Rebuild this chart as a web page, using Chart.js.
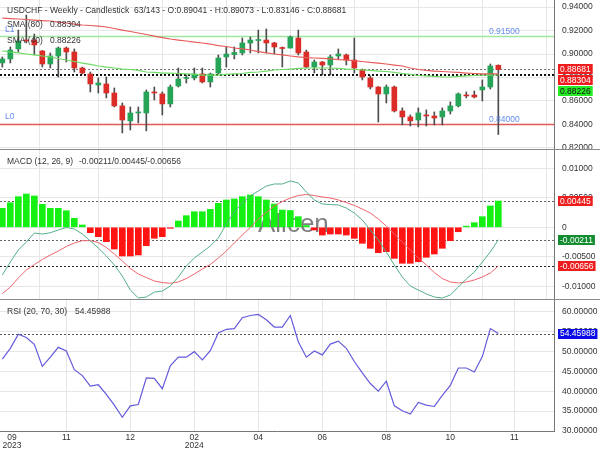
<!DOCTYPE html>
<html>
<head>
<meta charset="utf-8">
<script src="https://cdn.jsdelivr.net/npm/chart.js@4.4.1/dist/chart.umd.min.js"></script>
<style>
  html, body { margin: 0; padding: 0; background: #fff; }
  #wrap { position: relative; width: 600px; height: 450px; overflow: hidden; }
  .pane { position: absolute; left: 0; width: 600px; }
  .sep { position: absolute; left: 0; width: 600px; height: 1px; background: #8a8a8a; }
</style>
</head>
<body>
<div id="wrap">
  <div class="pane" style="top:0;height:149px"><canvas id="priceChart" width="600" height="149"></canvas></div>
  <div class="sep" style="top:149px"></div>
  <div class="pane" style="top:150px;height:149px"><canvas id="macdChart" width="600" height="149"></canvas></div>
  <div class="sep" style="top:299px"></div>
  <div class="pane" style="top:300px;height:150px"><canvas id="rsiChart" width="600" height="150"></canvas></div>
</div>
<script>
// weekly candles
var opens  = [0.8924, 0.8958, 0.9043, 0.9119, 0.9119, 0.9026, 0.8915, 0.8983, 0.9051, 0.9017,
              0.8881, 0.8830, 0.8736, 0.8745, 0.8668, 0.8558, 0.8430, 0.8498, 0.8498, 0.8677,
              0.8660, 0.8575, 0.8728, 0.8792, 0.8796, 0.8830, 0.8762, 0.8838, 0.8975, 0.8995,
              0.9009, 0.9094, 0.9115, 0.9119, 0.9094, 0.9051, 0.9051, 0.9136, 0.9017, 0.8889,
              0.8932, 0.8906, 0.8983, 0.8992, 0.8949, 0.8864, 0.8796, 0.8719, 0.8660, 0.8719,
              0.8515, 0.8464, 0.8438, 0.8481, 0.8472, 0.8464, 0.8515, 0.8558, 0.8651, 0.8651,
              0.8694, 0.8719, 0.89041];
var highs  = [0.8975, 0.9060, 0.9204, 0.9332, 0.9170, 0.9030, 0.9009, 0.9060, 0.9060, 0.9043,
              0.8889, 0.8847, 0.8796, 0.8804, 0.8711, 0.8583, 0.8549, 0.8549, 0.8694, 0.8719,
              0.8677, 0.8736, 0.8881, 0.8821, 0.8881, 0.8881, 0.8838, 0.8992, 0.9060, 0.9060,
              0.9136, 0.9145, 0.9204, 0.9213, 0.9100, 0.9060, 0.9153, 0.9204, 0.9034, 0.8949,
              0.8936, 0.8992, 0.9043, 0.9000, 0.9136, 0.8872, 0.8813, 0.8723, 0.8736, 0.8728,
              0.8541, 0.8481, 0.8541, 0.8524, 0.8507, 0.8541, 0.8592, 0.8668, 0.8677, 0.8685,
              0.8779, 0.8915, 0.89073];
var lows   = [0.8889, 0.8924, 0.9017, 0.9094, 0.8992, 0.8889, 0.8881, 0.8804, 0.8932, 0.8847,
              0.8830, 0.8677, 0.8668, 0.8626, 0.8549, 0.8328, 0.8353, 0.8413, 0.8345, 0.8609,
              0.8481, 0.8549, 0.8719, 0.8753, 0.8779, 0.8753, 0.8719, 0.8830, 0.8889, 0.8958,
              0.8992, 0.9009, 0.9009, 0.9009, 0.9000, 0.8889, 0.9051, 0.8992, 0.8881, 0.8838,
              0.8821, 0.8821, 0.8958, 0.8906, 0.8838, 0.8779, 0.8702, 0.8421, 0.8583, 0.8506,
              0.8396, 0.8387, 0.8379, 0.8387, 0.8396, 0.8396, 0.8489, 0.8549, 0.8626, 0.8626,
              0.8600, 0.8702, 0.83146];
var closes = [0.8958, 0.9034, 0.9111, 0.9111, 0.9077, 0.8915, 0.8983, 0.9051, 0.9017, 0.8881,
              0.8838, 0.8745, 0.8753, 0.8668, 0.8558, 0.8438, 0.8498, 0.8506, 0.8677, 0.8668,
              0.8575, 0.8719, 0.8787, 0.8796, 0.8830, 0.8762, 0.8830, 0.8966, 0.9000, 0.9013,
              0.9094, 0.9119, 0.9119, 0.9094, 0.9060, 0.9047, 0.9145, 0.9009, 0.8889, 0.8932,
              0.8906, 0.8975, 0.9000, 0.8949, 0.8881, 0.8804, 0.8719, 0.8660, 0.8719, 0.8515,
              0.8464, 0.8430, 0.8498, 0.8472, 0.8455, 0.8515, 0.8558, 0.8660, 0.8643, 0.8634,
              0.8719, 0.8898, 0.88681];

var sma80 = [0.9306, 0.9302, 0.9298, 0.9294, 0.9289, 0.9285, 0.9281, 0.9272, 0.9264, 0.9255,
             0.9247, 0.9243, 0.9238, 0.9230, 0.9217, 0.9204, 0.9192, 0.9179, 0.9166, 0.9153,
             0.9140, 0.9128, 0.9119, 0.9111, 0.9102, 0.9094, 0.9085, 0.9072, 0.9064, 0.9051,
             0.9043, 0.9034, 0.9021, 0.9009, 0.9000, 0.8992, 0.8983, 0.8975, 0.8970, 0.8966,
             0.8962, 0.8958, 0.8953, 0.8949, 0.8941, 0.8936, 0.8928, 0.8923, 0.8915, 0.8906,
             0.8898, 0.8881, 0.8868, 0.8860, 0.8855, 0.8851, 0.8847, 0.8843, 0.8838, 0.8834,
             0.8831, 0.8830, 0.88304];
var sma40 = [0.9026, 0.9017, 0.9009, 0.9000, 0.8992, 0.8983, 0.8975, 0.8962, 0.8949, 0.8936,
             0.8923, 0.8911, 0.8898, 0.8889, 0.8881, 0.8872, 0.8868, 0.8860, 0.8847, 0.8843,
             0.8838, 0.8838, 0.8834, 0.8830, 0.8826, 0.8821, 0.8821, 0.8821, 0.8826, 0.8830,
             0.8834, 0.8843, 0.8847, 0.8855, 0.8864, 0.8868, 0.8872, 0.8877, 0.8881, 0.8881,
             0.8881, 0.8881, 0.8877, 0.8872, 0.8868, 0.8864, 0.8860, 0.8855, 0.8851, 0.8843,
             0.8834, 0.8826, 0.8817, 0.8813, 0.8809, 0.8804, 0.8804, 0.8809, 0.8813, 0.8817,
             0.8821, 0.8821, 0.88226];

var macdHist = [0.00322, 0.00417, 0.00519, 0.00564, 0.00531, 0.00390, 0.00322, 0.00322, 0.00281, 0.00153,
                0.00039, -0.00091, -0.00159, -0.00244, -0.00368, -0.00486, -0.00486, -0.00469, -0.00312, -0.00186,
                -0.00159, -0.00017, 0.00107, 0.00197, 0.00264, 0.00264, 0.00305, 0.00407, 0.00463, 0.00480,
                0.00519, 0.00547, 0.00519, 0.00463, 0.00395, 0.00293, 0.00285, 0.00180, 0.00030, -0.00046,
                -0.00131, -0.00114, -0.00114, -0.00131, -0.00187, -0.00271, -0.00356, -0.00430, -0.00413, -0.00526,
                -0.00610, -0.00610, -0.00583, -0.00508, -0.00453, -0.00356, -0.00227, -0.00075, 0.00020, 0.00078,
                0.00180, 0.00361, 0.00445];
var macdLine = [-0.00808, -0.00588, -0.00385, -0.00249, -0.00097, -0.00114, -0.00092, -0.00046, -0.00003, -0.00029,
                -0.00114, -0.00232, -0.00351, -0.00486, -0.00639, -0.00825, -0.01063, -0.01198, -0.01181, -0.01097,
                -0.01080, -0.00995, -0.00842, -0.00656, -0.00520, -0.00419, -0.00317, -0.00181, 0.00056, 0.00259,
                0.00412, 0.00531, 0.00615, 0.00700, 0.00734, 0.00734, 0.00785, 0.00751, 0.00598, 0.00463,
                0.00395, 0.00386, 0.00378, 0.00327, 0.00242, 0.00124, -0.00046, -0.00215, -0.00419, -0.00639,
                -0.00842, -0.00995, -0.01063, -0.01130, -0.01181, -0.01198, -0.01147, -0.01012, -0.00876, -0.00758,
                -0.00588, -0.00419, -0.00211];
var signalLine = [-0.01124, -0.01012, -0.00859, -0.00724, -0.00631, -0.00546, -0.00469, -0.00402, -0.00325, -0.00266,
                  -0.00227, -0.00227, -0.00258, -0.00342, -0.00453, -0.00571, -0.00698, -0.00792, -0.00851, -0.00910,
                  -0.00936, -0.00949, -0.00927, -0.00868, -0.00792, -0.00707, -0.00631, -0.00520, -0.00402, -0.00266,
                  -0.00130, -0.00003, 0.00141, 0.00251, 0.00361, 0.00437, 0.00497, 0.00539, 0.00556, 0.00539,
                  0.00514, 0.00497, 0.00463, 0.00420, 0.00370, 0.00310, 0.00242, 0.00141, 0.00022, -0.00114,
                  -0.00249, -0.00385, -0.00520, -0.00639, -0.00766, -0.00868, -0.00927, -0.00944, -0.00927, -0.00893,
                  -0.00842, -0.00775, -0.00656];

var rsi = [48.04, 50.77, 54.31, 53.49, 51.76, 46.21, 48.54, 51.01, 50.10, 45.40,
           43.91, 41.26, 41.61, 39.21, 36.49, 33.44, 36.31, 36.66, 43.34, 43.24,
           40.62, 46.39, 48.54, 48.54, 49.93, 47.87, 50.17, 54.63, 55.54, 55.72,
           58.44, 59.01, 59.26, 57.95, 56.11, 56.11, 59.01, 52.40, 48.54, 50.10,
           49.11, 51.83, 52.57, 50.77, 47.45, 44.58, 41.93, 40.02, 42.50, 36.31,
           35.07, 34.26, 37.15, 36.49, 36.16, 38.96, 41.44, 45.82, 45.82, 44.83,
           48.69, 55.72, 54.45988];

var tickPositions = [1.2, 8, 16, 24, 32, 40, 48, 56, 64];
var tickLabels = [['09', '2023'], '11', '12', ['02', '2024'], '04', '06', '08', '10', '11'];
var priceTicks = [0.82, 0.84, 0.86, 0.88, 0.90, 0.92, 0.94];
var macdTicks = [-0.01, -0.005, 0, 0.005, 0.01];
var rsiTicks = [30, 35, 40, 45, 50, 55, 60];
var levelHigh = 0.915;
var levelLow = 0.84;

var last = closes.length - 1;
var FONT_FAMILY = '"Liberation Sans", Arial, sans-serif';
var FONT = '8.5px ' + FONT_FAMILY;
var TEXT = '#333';
var BLUE = 'rgb(100,140,235)';
var GRID = '#e6e6e6';
var UP = 'rgb(38,164,88)';
var DOWN = 'rgb(220,44,40)';

Chart.defaults.font.family = FONT_FAMILY;
Chart.defaults.font.size = 8.5;
Chart.defaults.color = TEXT;
Chart.defaults.animation = false;

function text(ctx, str, x, y, color) {
    ctx.save();
    ctx.font = FONT;
    ctx.fillStyle = color || TEXT;
    ctx.textBaseline = 'middle';
    ctx.textAlign = 'left';
    ctx.fillText(str, x, y);
    ctx.restore();
}

function hLine(chart, value, color, dash, width) {
    var y = Math.round(chart.scales.y.getPixelForValue(value)) + 0.5;
    var a = chart.chartArea;
    var ctx = chart.ctx;
    ctx.save();
    ctx.strokeStyle = color;
    ctx.lineWidth = width || 1;
    ctx.setLineDash(dash || []);
    ctx.beginPath();
    ctx.moveTo(a.left, y);
    ctx.lineTo(a.right, y);
    ctx.stroke();
    ctx.restore();
}

// value tags on the right axis, pushed down so they never overlap
function tags(chart, items) {
    var sc = chart.scales.y;
    var ctx = chart.ctx;
    var list = items.map(function (it) {
        return Object.assign({ py: sc.getPixelForValue(it.value) }, it);
    }).sort(function (a, b) { return a.py - b.py; });
    var prev = -100;
    ctx.save();
    ctx.font = FONT;
    list.forEach(function (it) {
        var y = Math.max(it.py, prev + 11);
        prev = y;
        var w = ctx.measureText(it.text).width;
        ctx.fillStyle = it.bg;
        ctx.fillRect(558, Math.round(y - 5), w + 4, 10);
        ctx.fillStyle = it.fg;
        ctx.textBaseline = 'middle';
        ctx.fillText(it.text, 560, y + 0.5);
    });
    ctx.restore();
}

function xScale(showLabels) {
    return {
        type: 'linear',
        min: -0.29,
        max: 68.96,
        offset: false,
        afterBuildTicks: function (s) { s.ticks = tickPositions.map(function (v) { return { value: v }; }); },
        afterFit: function (s) {
            s.height = showLabels ? 19 : 0;
            s.paddingLeft = 0;
            s.paddingRight = 0;
        },
        grid: {
            drawTicks: false,
            color: function (c) { return (c.tick && c.tick.value < 4) ? 'rgba(0,0,0,0)' : GRID; }
        },
        border: { display: showLabels, color: '#777' },
        ticks: {
            display: showLabels,
            autoSkip: false,
            maxRotation: 0,
            padding: 2,
            color: TEXT,
            font: { size: 8.5, lineHeight: 1 },
            callback: function (v, i) { return tickLabels[i]; }
        }
    };
}

function yScale(min, max, vals, fmt) {
    return {
        position: 'right',
        min: min,
        max: max,
        afterBuildTicks: function (s) { s.ticks = vals.map(function (v) { return { value: v }; }); },
        afterFit: function (s) {
            s.width = 46;
            s.paddingTop = 0;
            s.paddingBottom = 0;
        },
        grid: { drawTicks: false, color: GRID },
        border: { color: '#777' },
        ticks: { padding: 8, autoSkip: false, color: TEXT, callback: fmt }
    };
}

var baseOptions = function (scales) {
    return {
        responsive: false,
        devicePixelRatio: 1,
        animation: false,
        events: [],
        layout: { padding: 0, autoPadding: false },
        plugins: { legend: { display: false }, tooltip: { enabled: false } },
        scales: scales
    };
};

function pts(arr) {
    return arr.map(function (v, i) { return { x: i, y: v }; });
}

//------------------
//- PRICE / CANDLES -
//------------------
var candleColors = closes.map(function (c, i) { return c >= opens[i] ? UP : DOWN; });

var pricePlugin = {
    id: 'priceOverlay',
    beforeDatasetsDraw: function (chart) {
        hLine(chart, levelHigh, 'rgb(160,230,160)', null, 1.3);
        hLine(chart, levelLow, 'rgb(225,90,90)', null, 1.3);
        hLine(chart, closes[last], '#777', [2, 2], 1);
        hLine(chart, sma80[last], '#111', [2, 2], 1);
        hLine(chart, sma40[last], '#111', [2, 2], 1);
    },
    afterDraw: function (chart) {
        var ctx = chart.ctx;
        var ys = chart.scales.y;
        text(ctx, 'USDCHF - Weekly - Candlestick', 7, 10.5);
        text(ctx, '63/143 - O:' + opens[last].toFixed(5) + ' - H:' + highs[last].toFixed(5) +
            ' - L:' + lows[last].toFixed(5) + ' - C:' + closes[last].toFixed(5), 134, 10.5);
        text(ctx, 'SMA (80)', 7, 25);
        text(ctx, sma80[last].toFixed(5), 50, 25);
        text(ctx, 'SMA (40)', 7, 40.5);
        text(ctx, sma40[last].toFixed(5), 50, 40.5);
        text(ctx, 'L1', 5, ys.getPixelForValue(levelHigh) - 7, BLUE);
        text(ctx, 'L0', 5, ys.getPixelForValue(levelLow) - 7.5, BLUE);
        text(ctx, levelHigh.toFixed(5), 489, ys.getPixelForValue(levelHigh) - 5, BLUE);
        text(ctx, levelLow.toFixed(5), 489, ys.getPixelForValue(levelLow) - 4.5, BLUE);
        tags(chart, [
            { value: closes[last], text: closes[last].toFixed(5), bg: 'rgb(238,30,30)', fg: '#fff' },
            { value: sma80[last], text: sma80[last].toFixed(5), bg: 'rgb(238,30,30)', fg: '#fff' },
            { value: sma40[last], text: sma40[last].toFixed(5), bg: 'rgb(40,235,40)', fg: '#111' }
        ]);
    }
};

var priceChart = new Chart(document.getElementById('priceChart'), {
    type: 'bar',
    data: {
        datasets: [
            {
                type: 'line', data: pts(sma80), borderColor: 'rgb(232,92,92)', borderWidth: 1.2,
                pointRadius: 0, order: -2
            },
            {
                type: 'line', data: pts(sma40), borderColor: 'rgb(110,220,100)', borderWidth: 1.2,
                pointRadius: 0, order: -1
            },
            {
                data: opens.map(function (o, i) { return { x: i, y: [o, closes[i]] }; }),
                backgroundColor: candleColors, barThickness: 5, minBarLength: 1, grouped: false, order: 0
            },
            {
                data: lows.map(function (l, i) { return { x: i, y: [l, highs[i]] }; }),
                backgroundColor: '#4d4d4d', barThickness: 1, grouped: false, order: 1
            }
        ]
    },
    options: baseOptions({
        x: xScale(false),
        y: yScale(0.8191, 0.946, priceTicks, function (v) { return v.toFixed(5); })
    }),
    plugins: [pricePlugin]
});

//--------
//- MACD -
//--------
var macdPlugin = {
    id: 'macdOverlay',
    beforeDatasetsDraw: function (chart) {
        var ctx = chart.ctx;
        ctx.save();
        ctx.font = '26px ' + FONT_FAMILY;
        ctx.fillStyle = 'rgba(85,85,85,0.75)';
        ctx.textBaseline = 'alphabetic';
        ctx.fillText('Allcen', 258, 82);
        ctx.restore();
        hLine(chart, macdHist[last], '#666', [2, 2], 1);
        hLine(chart, macdLine[last], '#666', [2, 2], 1);
        hLine(chart, signalLine[last], '#222', [2, 2], 1);
    },
    afterDraw: function (chart) {
        var ctx = chart.ctx;
        text(ctx, 'MACD (12, 26, 9)', 7, 11.5);
        text(ctx, macdLine[last].toFixed(5) + '/' + macdHist[last].toFixed(5) + '/' + signalLine[last].toFixed(5), 79, 11.5);
        tags(chart, [
            { value: macdHist[last], text: macdHist[last].toFixed(5), bg: 'rgb(238,30,30)', fg: '#fff' },
            { value: macdLine[last], text: macdLine[last].toFixed(5), bg: 'rgb(20,140,50)', fg: '#fff' },
            { value: signalLine[last], text: signalLine[last].toFixed(5), bg: 'rgb(238,30,30)', fg: '#fff' }
        ]);
    }
};

var macdChart = new Chart(document.getElementById('macdChart'), {
    type: 'bar',
    data: {
        datasets: [
            {
                type: 'line', data: pts(macdLine), borderColor: 'rgb(85,175,135)', borderWidth: 1,
                pointRadius: 0, order: -2
            },
            {
                type: 'line', data: pts(signalLine), borderColor: 'rgb(238,100,110)', borderWidth: 1,
                pointRadius: 0, order: -1
            },
            {
                data: pts(macdHist),
                backgroundColor: macdHist.map(function (v) { return v >= 0 ? 'rgb(20,240,20)' : 'rgb(255,20,20)'; }),
                barThickness: 6, minBarLength: 1, grouped: false, order: 0
            }
        ]
    },
    options: baseOptions({
        x: xScale(false),
        y: yScale(-0.01215, 0.0131, macdTicks, function (v) { return v === 0 ? '0' : v.toFixed(5); })
    }),
    plugins: [macdPlugin]
});

//-------
//- RSI -
//-------
var rsiPlugin = {
    id: 'rsiOverlay',
    beforeDatasetsDraw: function (chart) {
        hLine(chart, rsi[last], '#555', [2, 2], 1);
    },
    afterDraw: function (chart) {
        var ctx = chart.ctx;
        text(ctx, 'RSI (20, 70, 30)', 7, 12);
        text(ctx, rsi[last].toFixed(5), 75, 12);
        tags(chart, [
            { value: rsi[last], text: rsi[last].toFixed(5), bg: 'rgb(10,10,230)', fg: '#fff' }
        ]);
    }
};

var rsiChart = new Chart(document.getElementById('rsiChart'), {
    type: 'line',
    data: {
        datasets: [
            {
                data: pts(rsi), borderColor: 'rgb(100,90,220)', borderWidth: 1.2,
                pointRadius: 0
            }
        ]
    },
    options: baseOptions({
        x: xScale(true),
        y: yScale(30, 62.9, rsiTicks, function (v) { return v.toFixed(5); })
    }),
    plugins: [rsiPlugin]
});
</script>
</body>
</html>
